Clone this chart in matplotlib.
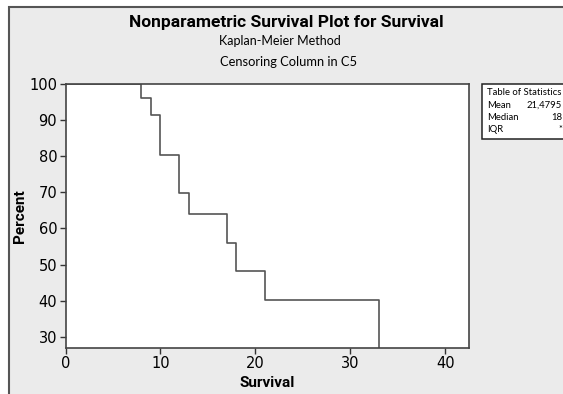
import matplotlib
matplotlib.use("Agg")
import matplotlib.pyplot as plt
from matplotlib.patches import Rectangle

# Kaplan-Meier estimate
times = [0, 8, 9, 10, 12, 13, 17, 18, 21, 33]
surv = [100, 96.0, 91.4, 80.3, 69.7, 63.9, 55.9, 48.2, 40.2, 0]
xmax = 42.5

xticks = [0, 10, 20, 30, 40]
yticks = [30, 40, 50, 60, 70, 80, 90, 100]

stat_names = ["Mean", "Median", "IQR"]
stat_values = ["21,4795", "18", "*"]

plt.rcParams['font.family'] = ['DejaVu Sans']
W, H = 563, 394
fig = plt.figure(figsize=(W / 100, H / 100), dpi=100, facecolor='white')

# grey panel with dark frame
fig.patches.append(Rectangle((9 / W, -0.1), 1.2, 1 - 7 / H + 0.1, transform=fig.transFigure,
                             facecolor='#ebebeb', edgecolor='#555555', linewidth=1.5, zorder=-10))

ax = fig.add_axes([65.5 / W, 1 - 348 / H, (469 - 65.5) / W, (348 - 84) / H])
ax.set_zorder(2)
ax.set_facecolor('white')
ax.step(times, surv, where='post', color='#555555', linewidth=1.2)
ax.set_xlim(0, xmax)
ax.set_ylim(26.9, 100)
ax.set_xticks(xticks)
ax.set_yticks(yticks)
ax.tick_params(direction='out', length=4, width=1, color='#333333', labelsize=10.5, pad=2)
for s in ax.spines.values():
    s.set_color('#444444')
    s.set_linewidth(1.2)
ax.set_xlabel('Survival', fontweight='bold', fontsize=11, family='Roboto', va='center')
ax.set_ylabel('Percent', fontweight='bold', fontsize=11, family='Roboto', va='center')
ax.xaxis.set_label_coords(0.5, -0.133)
ax.yaxis.set_label_coords(-0.112, 0.5)

fig.text(286 / W, 1 - 22.5 / H, 'Nonparametric Survival Plot for Survival', ha='center', va='center',
         fontsize=12.5, fontweight='bold', family='Roboto')
fig.text(280 / W, 1 - 41 / H, 'Kaplan-Meier Method', ha='center', va='center', fontsize=9, family='Lato')
fig.text(288 / W, 1 - 62 / H, 'Censoring Column in C5', ha='center', va='center', fontsize=9.3, family='Lato')

# table of statistics
fig.patches.append(Rectangle((481.5 / W, 1 - 139.5 / H), 0.3, 55.5 / H, transform=fig.transFigure,
                             facecolor='white', edgecolor='#222222', linewidth=1.1, zorder=1))
fig.text(487 / W, 1 - 92.5 / H, 'Table of Statistics', ha='left', va='center', fontsize=6.8, family='Lato')
for i, (n, v) in enumerate(zip(stat_names, stat_values)):
    y = 1 - (105 + 12.5 * i) / H
    fig.text(487 / W, y, n, ha='left', va='center', fontsize=6.8, family='Lato')
    fig.text(562 / W, y, v, ha='right', va='center', fontsize=6.8, family='Lato')

fig.savefig('out.png', dpi=100, facecolor='white')
